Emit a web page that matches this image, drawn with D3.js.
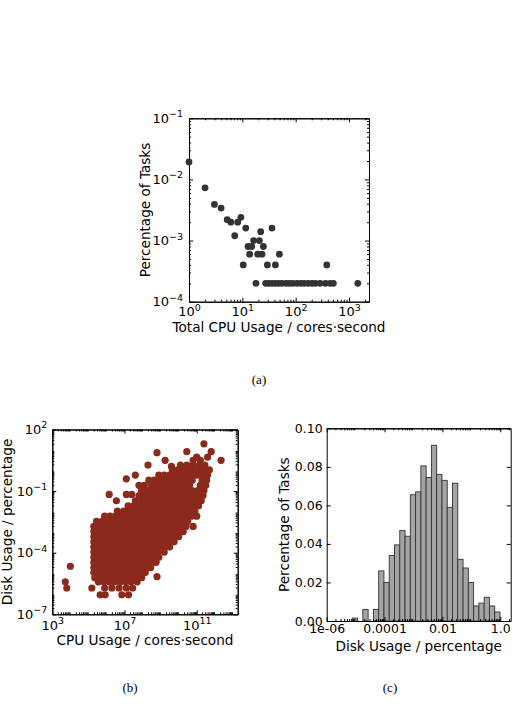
<!DOCTYPE html>
<html>
<head>
<meta charset="utf-8">
<script src="https://cdn.jsdelivr.net/npm/d3@7"></script>
<style>
  body { margin: 0; background: #fff; }
  text { font-family: "DejaVu Sans", sans-serif; }
</style>
</head>
<body>
<svg id="fig" width="519" height="725"></svg>
<script>
// (a) total cpu usage vs share of tasks
var cpuTotal = [1, 2, 3, 4, 5.2, 6.1, 7.2, 8.2, 9.4, 10.4, 11.6, 12.8, 13.7, 15, 16.3, 18, 19.4, 20.9, 22.1, 23.4, 24.8,
  29.5, 36, 41.7, 49.5, 383,
  27.4, 31.2, 36, 41.6, 48, 55.6, 66, 76, 88, 105, 124, 144, 171, 203, 234, 287, 361, 442, 510, 1462];
var taskPct = [0.0193, 0.0073, 0.0039, 0.0034, 0.0022, 0.0020, 0.0012, 0.0020, 0.0024, 0.0004, 0.0016, 0.0008, 0.0006, 0.0008, 0.0010, 0.0002, 0.0006, 0.0010, 0.0014, 0.0006, 0.0008,
  0.0004, 0.0016, 0.0004, 0.0006, 0.0004,
  0.0002, 0.0002, 0.0002, 0.0002, 0.0002, 0.0002, 0.0002, 0.0002, 0.0002, 0.0002, 0.0002, 0.0002, 0.0002, 0.0002, 0.0002, 0.0002, 0.0002, 0.0002, 0.0002, 0.0002];

// (b) rows of tasks: [log10 disk usage, [log10 cpu usage, ...]]
var diskRows = [
  [1.30, [11.4]],
  [0.92, [10.45, 11.8]],
  [0.87, [8.8]],
  [0.65, [11.0, 11.6]],
  [0.50, [9.25, 10.8, 11.2, 12.35]],
  [0.27, [8.3, 10.1, 10.45, 10.8, 11.15, 11.45]],
  [0.20, [9.6]],
  [0.03, [9.65, 9.95, 10.25, 10.55, 10.85, 11.15, 11.45, 11.7]],
  [-0.22, [7.6, 8.9, 9.2, 9.5, 9.8, 10.1, 10.4, 10.7, 11.0, 11.3, 11.6]],
  [-0.40, [7.1]],
  [-0.47, [8.35, 8.65, 8.95, 9.25, 9.55, 9.85, 10.15, 10.45, 10.75, 11.3, 11.55]],
  [-0.72, [7.8, 8.1, 8.5, 8.8, 9.1, 9.4, 9.7, 10.0, 10.3, 10.6, 11.2, 11.5]],
  [-0.97, [7.95, 8.3, 8.65, 8.95, 9.25, 9.55, 9.85, 10.15, 10.45, 10.75, 11.05, 11.4]],
  [-1.16, [6.15, 7.1, 7.4]],
  [-1.22, [7.8, 8.1, 8.4, 8.7, 9.0, 9.3, 9.6, 9.9, 10.2, 10.5, 10.8, 11.1, 11.35]],
  [-1.47, [6.55, 7.6, 7.95, 8.25, 8.55, 8.85, 9.15, 9.45, 9.75, 10.05, 10.35, 10.65, 10.95, 11.25]],
  [-1.72, [7.2, 7.5, 7.8, 8.1, 8.4, 8.7, 9.0, 9.3, 9.6, 9.9, 10.2, 10.5, 10.8, 11.1]],
  [-1.97, [6.6, 6.95, 7.25, 7.55, 7.85, 8.15, 8.45, 8.75, 9.05, 9.35, 9.65, 9.95, 10.25, 10.55, 10.9]],
  [-2.22, [5.9, 6.2, 6.5, 6.8, 7.1, 7.4, 7.7, 8.0, 8.3, 8.6, 8.9, 9.2, 9.5, 9.8, 10.1, 10.4, 10.7, 11.0]],
  [-2.47, [5.45, 5.75, 6.05, 6.35, 6.65, 6.95, 7.25, 7.55, 7.85, 8.15, 8.45, 8.75, 9.05, 9.35, 9.65, 9.95, 10.25, 10.5]],
  [-2.72, [5.3, 5.6, 5.9, 6.2, 6.5, 6.8, 7.1, 7.4, 7.7, 8.0, 8.3, 8.6, 8.9, 9.2, 9.5, 9.8, 10.1, 10.4, 10.8]],
  [-2.97, [5.3, 5.55, 5.85, 6.15, 6.45, 6.75, 7.05, 7.35, 7.65, 7.95, 8.25, 8.55, 8.85, 9.15, 9.45, 9.75, 10.05, 10.25]],
  [-3.22, [5.3, 5.6, 5.9, 6.2, 6.5, 6.8, 7.1, 7.4, 7.7, 8.0, 8.3, 8.6, 8.9, 9.2, 9.5, 9.8, 10.0]],
  [-3.47, [5.3, 5.55, 5.85, 6.15, 6.45, 6.75, 7.05, 7.35, 7.65, 7.95, 8.25, 8.55, 8.85, 9.15, 9.45, 9.75]],
  [-3.72, [5.3, 5.6, 5.9, 6.2, 6.5, 6.8, 7.1, 7.4, 7.7, 8.0, 8.3, 8.6, 8.9, 9.2, 9.5]],
  [-3.97, [5.3, 5.55, 5.85, 6.15, 6.45, 6.75, 7.05, 7.35, 7.65, 7.95, 8.25, 8.55, 8.85, 9.2]],
  [-4.22, [5.3, 5.6, 5.9, 6.2, 6.5, 6.8, 7.1, 7.4, 7.7, 8.0, 8.3, 8.6, 8.9]],
  [-4.47, [5.3, 5.55, 5.85, 6.15, 6.45, 6.75, 7.05, 7.35, 7.65, 7.95, 8.25, 8.55, 8.75]],
  [-4.66, [4.0]],
  [-4.72, [5.3, 5.6, 5.9, 6.2, 6.5, 6.8, 7.1, 7.4, 7.7, 8.0, 8.3, 8.45]],
  [-4.97, [5.3, 5.55, 5.85, 6.15, 6.45, 6.75, 7.05, 7.35, 7.65, 7.95, 8.15]],
  [-5.17, [8.8]],
  [-5.22, [5.35, 5.6, 5.9, 6.2, 6.5, 6.8, 7.1, 7.4, 7.7, 7.95]],
  [-5.42, [3.72, 5.55, 5.85, 6.15, 6.45, 6.75, 7.05, 7.35, 7.7]],
  [-5.72, [3.8, 5.19, 5.9, 6.3, 6.7, 7.1, 7.45]],
  [-6.05, [5.65, 5.93, 6.85, 7.22]]
];

// (c) histogram over log10(disk usage)
var histLo = -5.115, histW = 0.1823;
var histPct = [0.0015, 0, 0.006, 0, 0.006, 0.026, 0.020, 0.034, 0.0395, 0.047, 0.044, 0.0655, 0.067, 0.0805,
  0.0745, 0.0912, 0.076, 0.073, 0.059, 0.0715, 0.032, 0.0275, 0.020, 0.0078, 0.0093, 0.0123, 0.0078, 0.0047];
var histXTicks = [1e-6, 1e-4, 1e-2, 1];
var histXLabels = ["1e-06", "0.0001", "0.01", "1.0"];
var histYTicks = [0, 0.02, 0.04, 0.06, 0.08, 0.10];

var svg = d3.select("#fig");

function minorLog(scale) {
  var d = scale.domain(), out = [];
  for (var e = Math.floor(Math.log10(d[0])); e <= Math.ceil(Math.log10(d[1])); e++)
    for (var k = 2; k <= 9; k++) {
      var v = k * Math.pow(10, e);
      if (v > d[0] && v < d[1]) out.push(v);
    }
  return out;
}

// turn plain tick text into 10 with a raised exponent
function powLabels(g) {
  g.selectAll(".tick text").each(function(d) {
    var t = d3.select(this), e = Math.round(Math.log10(d));
    t.text(null);
    t.append("tspan").text("10");
    t.append("tspan").attr("dy", "-0.6em").attr("font-size", "9.5px")
      .text(String(e).replace("-", "\u2212"));
  });
}

function frame(g, x, y, o) {
  var xr = x.range(), yr = y.range();
  function put(axis, tr) {
    var a = g.append("g").attr("transform", tr).call(axis);
    a.attr("font-family", "DejaVu Sans").attr("font-size", o.tickSize);
    a.select(".domain").attr("stroke-width", 1);
    return a;
  }
  // minor ticks, all four sides
  if (o.xMinor) {
    put(d3.axisBottom(x).tickValues(o.xMinor).tickSize(-2).tickSizeOuter(0).tickFormat(""), "translate(0," + yr[0] + ")");
    put(d3.axisTop(x).tickValues(o.xMinor).tickSize(-2).tickSizeOuter(0).tickFormat(""), "translate(0," + yr[1] + ")");
  }
  if (o.yMinor) {
    put(d3.axisLeft(y).tickValues(o.yMinor).tickSize(-2).tickSizeOuter(0).tickFormat(""), "translate(" + xr[0] + ",0)");
    put(d3.axisRight(y).tickValues(o.yMinor).tickSize(-2).tickSizeOuter(0).tickFormat(""), "translate(" + xr[1] + ",0)");
  }
  var bx = put(d3.axisBottom(x).tickValues(o.xMajor).tickSize(-4).tickSizeOuter(0).tickPadding(o.xPad).tickFormat(o.xFmt), "translate(0," + yr[0] + ")");
  put(d3.axisTop(x).tickValues(o.xMajor).tickSize(-4).tickSizeOuter(0).tickFormat(""), "translate(0," + yr[1] + ")");
  var ly = put(d3.axisLeft(y).tickValues(o.yMajor).tickSize(-4).tickSizeOuter(0).tickPadding(o.yPad).tickFormat(o.yFmt), "translate(" + xr[0] + ",0)");
  put(d3.axisRight(y).tickValues(o.yMajor).tickSize(-4).tickSizeOuter(0).tickFormat(""), "translate(" + xr[1] + ",0)");
  if (o.pow) { powLabels(bx); powLabels(ly); }

  var cx = (xr[0] + xr[1]) / 2, cy = (yr[0] + yr[1]) / 2;
  g.append("text").attr("x", cx).attr("y", o.xTitleY).attr("text-anchor", "middle")
    .attr("font-size", 13.6).text(o.xTitle);
  g.append("text").attr("transform", "translate(" + o.yTitleX + "," + cy + ") rotate(-90)")
    .attr("text-anchor", "middle").attr("font-size", 13.6).text(o.yTitle);
}

function caption(x, y, s) {
  svg.append("text").attr("x", x).attr("y", y).attr("text-anchor", "middle")
    .style("font-family", "'Liberation Serif', 'DejaVu Serif', serif").attr("font-size", 13).text(s);
}

// ---------- (a)
var ga = svg.append("g");
var xa = d3.scaleLog().domain([1, Math.pow(10, 3.375)]).range([189, 369]);
var ya = d3.scaleLog().domain([1e-4, 1e-1]).range([301.7, 118.3]);
frame(ga, xa, ya, {
  xMajor: [1, 10, 100, 1000], yMajor: [1e-4, 1e-3, 1e-2, 1e-1],
  xMinor: minorLog(xa), yMinor: minorLog(ya), xFmt: String, yFmt: String, pow: true,
  xPad: 5.5, yPad: 6, tickSize: 13,
  xTitle: "Total CPU Usage / cores\u00b7second", xTitleY: 332,
  yTitle: "Percentage of Tasks", yTitleX: 150
});
ga.selectAll("circle").data(cpuTotal).enter().append("circle")
  .attr("cx", function(d) { return xa(d); })
  .attr("cy", function(d, i) { return ya(taskPct[i]); })
  .attr("r", 3.4).attr("fill", "#333333");
caption(259, 384, "(a)");

// ---------- (b)
var gb = svg.append("g");
var xb = d3.scaleLog().domain([1e3, Math.pow(10, 13.27)]).range([52.3, 237.7]);
var yb = d3.scaleLog().domain([1e-7, 1e2]).range([614.3, 429.5]);
frame(gb, xb, yb, {
  xMajor: [1e3, 1e7, 1e11], yMajor: [1e-7, 1e-4, 1e-1, 1e2],
  xMinor: minorLog(xb), yMinor: minorLog(yb), xFmt: String, yFmt: String, pow: true,
  xPad: 6, yPad: 5, tickSize: 13,
  xTitle: "CPU Usage / cores\u00b7second", xTitleY: 645,
  yTitle: "Disk Usage / percentage", yTitleX: 12
});
var pts = [];
diskRows.forEach(function(r) { r[1].forEach(function(c) { pts.push([c, r[0]]); }); });
gb.selectAll("circle").data(pts).enter().append("circle")
  .attr("cx", function(d) { return xb(Math.pow(10, d[0])); })
  .attr("cy", function(d) { return yb(Math.pow(10, d[1])); })
  .attr("r", 3.6).attr("fill", "#8b2a1b");
caption(130, 692, "(b)");

// ---------- (c)
var gc = svg.append("g");
var xc = d3.scaleLog().domain([1e-6, Math.pow(10, 0.36)]).range([326.7, 510.7]);
var yc = d3.scaleLinear().domain([0, 0.1]).range([621, 428.3]);
gc.selectAll("rect").data(histPct).enter().append("rect")
  .attr("x", function(d, i) { return xc(Math.pow(10, histLo + i * histW)); })
  .attr("width", function(d, i) { return xc(Math.pow(10, histLo + (i + 1) * histW)) - xc(Math.pow(10, histLo + i * histW)); })
  .attr("y", function(d) { return yc(d); })
  .attr("height", function(d) { return yc(0) - yc(d); })
  .attr("fill", "#a4a4a4").attr("stroke", "#333").attr("stroke-width", 0.9);
frame(gc, xc, yc, {
  xMajor: histXTicks, yMajor: histYTicks,
  xMinor: minorLog(xc), yMinor: null,
  xFmt: function(d, i) { return histXLabels[i]; }, yFmt: d3.format(".2f"), pow: false,
  xPad: 3, yPad: 4, tickSize: 12.5,
  xTitle: "Disk Usage / percentage", xTitleY: 651,
  yTitle: "Percentage of Tasks", yTitleX: 289
});
caption(390, 692, "(c)");
</script>
</body>
</html>
